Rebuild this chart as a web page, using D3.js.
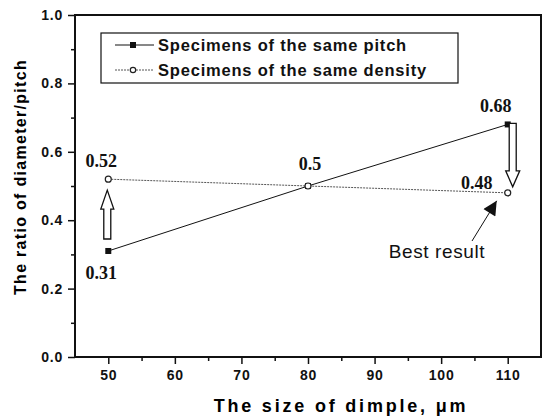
<!DOCTYPE html>
<html>
<head>
<meta charset="utf-8">
<style>
  body { margin: 0; background: #fff; }
  svg { display: block; font-family: Arial, "Liberation Sans", sans-serif; }
  .tick text { font-size: 14px; font-weight: bold; fill: #111; letter-spacing: 0.8px; }
  .axis .domain { display: none; }
  .axis .tick line { stroke: #111; stroke-width: 1.5; }
</style>
</head>
<body>
<svg width="546" height="418"></svg>
<script src="https://d3js.org/d3.v7.min.js"></script>
<script>
// dimple size (um)
const sizes = [50, 80, 110];
// ratio of diameter / pitch
const samePitch = [0.31, 0.5, 0.68];
const sameDensity = [0.52, 0.5, 0.48];
const pitchLabels = ["0.31", "0.5", "0.68"];
const densityLabels = ["0.52", "", "0.48"];
const xTicks = [50, 60, 70, 80, 90, 100, 110];
const yTicks = [0.0, 0.2, 0.4, 0.6, 0.8, 1.0];
const seriesNames = ["Specimens of the same pitch", "Specimens of the same density"];

const svg = d3.select("svg");
const margin = { top: 15, right: 5, bottom: 61, left: 75 };
const width = 546, height = 418;

const x = d3.scaleLinear().domain([45, 115]).range([margin.left, width - margin.right]);
const y = d3.scaleLinear().domain([0, 1]).range([height - margin.bottom, margin.top]);

// minor ticks
svg.append("g").attr("class", "axis")
  .attr("transform", `translate(0,${y(0)})`)
  .call(d3.axisBottom(x).tickValues(d3.range(55, 115, 10)).tickSize(4).tickFormat(""));
svg.append("g").attr("class", "axis")
  .attr("transform", `translate(${x(45)},0)`)
  .call(d3.axisLeft(y).tickValues([0.1, 0.3, 0.5, 0.7, 0.9]).tickSize(4).tickFormat(""));

// major ticks
svg.append("g").attr("class", "axis")
  .attr("transform", `translate(0,${y(0)})`)
  .call(d3.axisBottom(x).tickValues(xTicks).tickSize(7).tickPadding(6).tickFormat(d3.format("d")));
svg.append("g").attr("class", "axis")
  .attr("transform", `translate(${x(45)},0)`)
  .call(d3.axisLeft(y).tickValues(yTicks).tickSize(7).tickPadding(5).tickFormat(d3.format(".1f")));

// frame
svg.append("rect")
  .attr("x", x(45)).attr("y", y(1))
  .attr("width", x(115) - x(45)).attr("height", y(0) - y(1))
  .attr("fill", "none").attr("stroke", "#111").attr("stroke-width", 2);

// axis titles
svg.append("text")
  .attr("x", 341).attr("y", 412)
  .attr("text-anchor", "middle")
  .style("font-size", "18px").style("font-weight", "bold").style("letter-spacing", "2.8px")
  .text("The size of dimple, \u03bcm");
svg.append("text")
  .attr("transform", "translate(26,177) rotate(-90)")
  .attr("text-anchor", "middle")
  .style("font-size", "16px").style("font-weight", "bold").style("letter-spacing", "1.3px")
  .text("The ratio of diameter/pitch");

const pitchData = sizes.map((s, i) => ({ x: s, y: samePitch[i], label: pitchLabels[i] }));
const densData = sizes.map((s, i) => ({ x: s, y: sameDensity[i], label: densityLabels[i] }));

const line = d3.line().x(d => x(d.x)).y(d => y(d.y));

svg.append("path").datum(densData)
  .attr("d", line).attr("fill", "none")
  .attr("stroke", "#555").attr("stroke-width", 1).attr("stroke-dasharray", "2,1");
svg.append("path").datum(pitchData)
  .attr("d", line).attr("fill", "none")
  .attr("stroke", "#111").attr("stroke-width", 1);

svg.append("g").selectAll("rect").data(pitchData).join("rect")
  .attr("x", d => x(d.x) - 3).attr("y", d => y(d.y) - 3)
  .attr("width", 6).attr("height", 6).attr("fill", "#111");
svg.append("g").selectAll("circle").data(densData).join("circle")
  .attr("cx", d => x(d.x)).attr("cy", d => y(d.y)).attr("r", 3)
  .attr("fill", "#fff").attr("stroke", "#222").attr("stroke-width", 1.2);

// value labels
const labelStyle = sel => sel
  .attr("text-anchor", "middle")
  .style("font-family", "'Liberation Serif', 'Times New Roman', serif")
  .style("font-size", "18px").style("font-weight", "bold").style("fill", "#111");

const pitchOffsets = [[-7, 28], [2, -16], [-12, -12]];
const densOffsets = [[-7, -12], [0, 0], [-31, -4]];
svg.append("g").selectAll("text").data(pitchData).join("text")
  .attr("x", (d, i) => x(d.x) + pitchOffsets[i][0])
  .attr("y", (d, i) => y(d.y) + pitchOffsets[i][1])
  .call(labelStyle).text(d => d.label);
svg.append("g").selectAll("text").data(densData).join("text")
  .attr("x", (d, i) => x(d.x) + densOffsets[i][0])
  .attr("y", (d, i) => y(d.y) + densOffsets[i][1])
  .call(labelStyle).text(d => d.label);

// hollow block arrow
function blockArrow(cx, yFrom, yTo, shaftW, headW, headL) {
  const dir = yTo < yFrom ? -1 : 1;
  const yb = yTo - dir * headL;
  const pts = [
    [cx - shaftW / 2, yFrom], [cx - shaftW / 2, yb], [cx - headW / 2, yb],
    [cx, yTo], [cx + headW / 2, yb], [cx + shaftW / 2, yb], [cx + shaftW / 2, yFrom]
  ];
  svg.append("path")
    .attr("d", "M" + pts.map(p => p.join(",")).join("L") + "Z")
    .attr("fill", "#fff").attr("stroke", "#111").attr("stroke-width", 1.3);
}
blockArrow(x(50) - 1, y(samePitch[0]) - 12, y(sameDensity[0]) + 11, 7, 13, 19);
blockArrow(x(110) + 5, y(samePitch[2]) - 1, y(sameDensity[2]) - 6, 7, 14, 16);

// best result pointer
svg.append("defs").append("marker")
  .attr("id", "tri").attr("viewBox", "0 0 10 10")
  .attr("refX", 10).attr("refY", 5)
  .attr("markerWidth", 20).attr("markerHeight", 14)
  .attr("markerUnits", "userSpaceOnUse")
  .attr("orient", "auto")
  .append("path").attr("d", "M0,0L10,5L0,10Z").attr("fill", "#111");
svg.append("line")
  .attr("x1", 472).attr("y1", 241)
  .attr("x2", x(110) - 11).attr("y2", y(sameDensity[2]) + 8)
  .attr("stroke", "#111").attr("stroke-width", 1)
  .attr("marker-end", "url(#tri)");
svg.append("text")
  .attr("x", 437).attr("y", 258)
  .attr("text-anchor", "middle")
  .style("font-size", "19px").style("letter-spacing", "0.6px").style("fill", "#111")
  .text("Best result");

// legend
const lg = svg.append("g");
lg.append("rect")
  .attr("x", 101).attr("y", 33).attr("width", 357).attr("height", 50)
  .attr("fill", "#fff").attr("stroke", "#111").attr("stroke-width", 1.2);
const rows = [45, 70];
lg.selectAll("line.l").data(rows).join("line")
  .attr("x1", 115).attr("x2", 154)
  .attr("y1", d => d).attr("y2", d => d)
  .attr("stroke", (d, i) => i === 0 ? "#111" : "#555")
  .attr("stroke-dasharray", (d, i) => i === 0 ? null : "2,1");
lg.append("rect").attr("x", 130).attr("y", rows[0] - 3).attr("width", 6).attr("height", 6).attr("fill", "#111");
lg.append("circle").attr("cx", 133).attr("cy", rows[1]).attr("r", 2.7)
  .attr("fill", "#fff").attr("stroke", "#222").attr("stroke-width", 1.2);
lg.selectAll("text").data(seriesNames).join("text")
  .attr("x", 158).attr("y", (d, i) => rows[i] + 6)
  .style("font-size", "16.5px").style("font-weight", "bold").style("letter-spacing", "0.8px").style("fill", "#111")
  .text(d => d);
</script>
</body>
</html>
